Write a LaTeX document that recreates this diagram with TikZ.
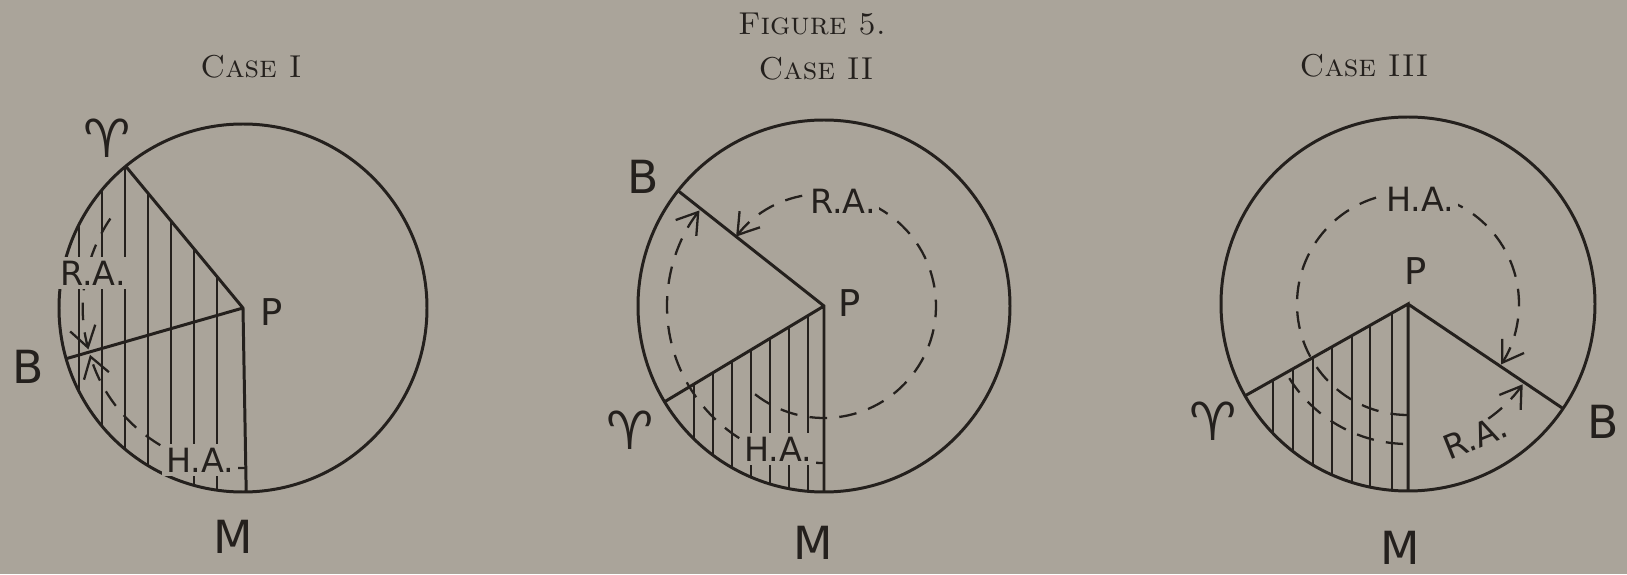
\documentclass[tikz,border=0pt]{standalone}
\usepackage{fontspec}
\newfontfamily\handfont{DejaVu Sans}
\usetikzlibrary{arrows.meta}
\definecolor{paper}{RGB}{170,164,154}
\definecolor{ink}{RGB}{36,32,29}

\tikzset{
  rim/.style={draw=ink, line width=0.85pt},
  hatchline/.style={draw=ink, line width=0.55pt},
  arcline/.style={draw=ink, line width=0.65pt, dash pattern=on 5pt off 3.5pt},
  biglbl/.style={text=ink, inner sep=1pt, font=\handfont\fontsize{13}{13}\selectfont},
  plbl/.style={text=ink, inner sep=1pt, font=\handfont\fontsize{10.5}{11}\selectfont},
  arclbl/.style={text=ink, fill=paper, inner sep=1pt, font=\handfont\fontsize{9.5}{10}\selectfont},
  arieslbl/.style={text=ink, inner sep=0pt, font=\handfont\fontsize{15}{15}\selectfont},
  titlelbl/.style={text=ink, inner sep=1pt, font=\fontsize{9}{11}\selectfont\scshape}
}

\begin{document}
\begin{tikzpicture}
\fill[paper] (0,0) rectangle (16.27,5.74);
\useasboundingbox (0,0) rectangle (16.27,5.74);

\node[titlelbl] (fig) at (8.12,5.50) {Figure 5.};
\node[titlelbl] (case1) at (2.51,5.07) {Case I};
\node[titlelbl] (case2) at (8.16,5.05) {Case II};
\node[titlelbl] (case3) at (13.64,5.08) {Case III};

% case I
\begin{scope}[>={Straight Barb[length=2mm,width=2.6mm]}, shift={(2.43,2.66)}]
\coordinate (P1) at (0,0);
\coordinate (A1) at (129.6:1.84);
\coordinate (B1) at (196:1.84);
\coordinate (M1) at (271:1.84);

\begin{scope}
\clip (P1) -- (A1) arc[start angle=129.6, end angle=271, radius=1.84] -- cycle;
\foreach \x in {-1.64,-1.41,-1.18,-0.95,-0.72,-0.49,-0.26}
  \draw[hatchline] (\x,-2) -- (\x,2);
\end{scope}

\draw[arcline,->] (146:1.6) arc[start angle=146, end angle=195, radius=1.6];
\draw[arcline,->] (271:1.6) arc[start angle=271, end angle=197, radius=1.6];

\draw[rim] (P1) circle[radius=1.84];
\draw[rim] (A1) -- (P1) -- (M1) (P1) -- (B1);

\node[arieslbl] (aries1) at (-1.36,1.70) {♈};
\node[biglbl] (b1) at (-2.15,-0.59) {B};
\node[plbl] (p1) at (0.29,-0.04) {P};
\node[biglbl] (m1) at (-0.10,-2.29) {M};
\node[arclbl] (ra1) at (-1.50,0.35) {R.A.};
\node[arclbl] (ha1) at (-0.43,-1.52) {H.A.};
\end{scope}

% case II
\begin{scope}[>={Straight Barb[length=2mm,width=2.6mm]}, shift={(8.24,2.68)}]
\coordinate (P2) at (0,0);
\coordinate (A2) at (211:1.86);
\coordinate (B2) at (141.7:1.86);
\coordinate (M2) at (270:1.86);

\begin{scope}
\clip (P2) -- (A2) arc[start angle=211, end angle=270, radius=1.86] -- cycle;
\foreach \x in {-1.30,-1.11,-0.92,-0.73,-0.54,-0.35,-0.16}
  \draw[hatchline] (\x,-2) -- (\x,2);
\end{scope}

\draw[arcline,->] (232:1.12) arc[start angle=232, end angle=501.7, radius=1.12];
\draw[arcline,->] (270:1.57) arc[start angle=270, end angle=142.5, radius=1.57];

\draw[rim] (P2) circle[radius=1.86];
\draw[rim] (B2) -- (P2) -- (M2) (P2) -- (A2);

\node[biglbl] (b2) at (-1.81,1.29) {B};
\node[arieslbl] (aries2) at (-1.94,-1.24) {♈};
\node[plbl] (p2) at (0.26,0.03) {P};
\node[biglbl] (m2) at (-0.11,-2.37) {M};
\node[arclbl] (ra2) at (0.19,1.05) {R.A.};
\node[arclbl] (ha2) at (-0.46,-1.43) {H.A.};
\end{scope}

% case III
\begin{scope}[>={Straight Barb[length=2mm,width=2.6mm]}, shift={(14.08,2.70)}]
\coordinate (P3) at (0,0);
\coordinate (A3) at (209.4:1.87);
\coordinate (B3) at (-34:1.87);
\coordinate (M3) at (270:1.87);

\begin{scope}
\clip (P3) -- (A3) arc[start angle=209.4, end angle=270, radius=1.87] -- cycle;
\foreach \x in {-1.35,-1.15,-0.95,-0.76,-0.56,-0.38,-0.16}
  \draw[hatchline] (\x,-2) -- (\x,2);
\end{scope}

\draw[arcline,->] (270:1.11) arc[start angle=270, end angle=-33, radius=1.11];
\draw[arcline] (212:1.4) arc[start angle=212, end angle=268, radius=1.4];
\draw[arcline,->] (305:1.4) arc[start angle=305, end angle=325, radius=1.4];

\draw[rim] (P3) circle[radius=1.87];
\draw[rim] (A3) -- (P3) -- (M3) (P3) -- (B3);

\node[arieslbl] (aries3) at (-1.95,-1.17) {♈};
\node[biglbl] (b3) at (1.95,-1.18) {B};
\node[plbl] (p3) at (0.08,0.33) {P};
\node[biglbl] (m3) at (-0.08,-2.44) {M};
\node[arclbl] (ha3) at (0.12,1.05) {H.A.};
\node[arclbl, fill=none, rotate=22] (ra3) at (0.67,-1.33) {R.A.};
\end{scope}
\end{tikzpicture}
\end{document}
